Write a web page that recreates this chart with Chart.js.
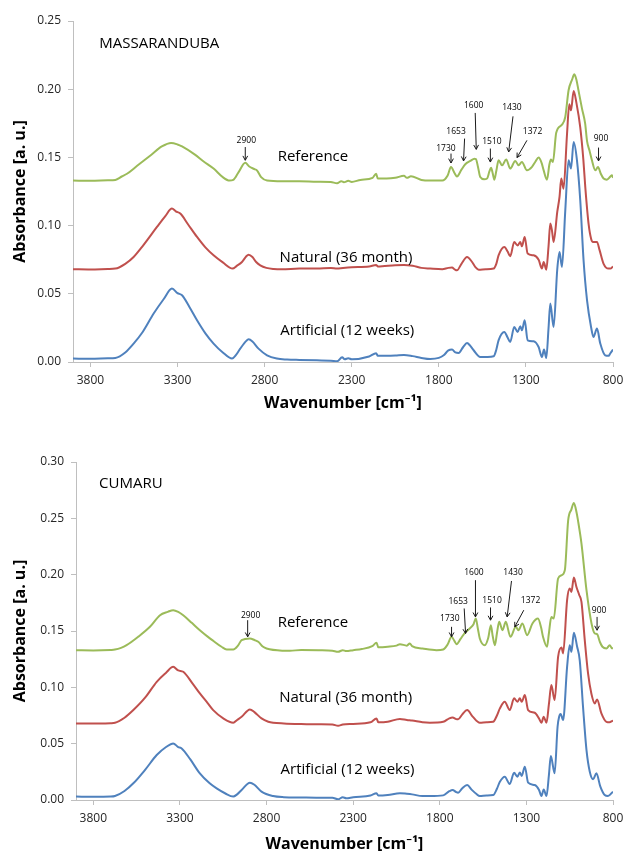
<!DOCTYPE html>
<html>
<head>
<meta charset="utf-8">
<script src="https://cdn.jsdelivr.net/npm/chart.js@4.4.1/dist/chart.umd.min.js"></script>
<style>
  body { margin: 0; background: #fff; }
  #wrap { position: relative; width: 627px; height: 854px; }
  #c1 { position: absolute; left: 0; top: 0; }
  #c2 { position: absolute; left: 0; top: 420px; }
</style>
</head>
<body>
<div id="wrap">
  <canvas id="c1" width="627" height="420"></canvas>
  <canvas id="c2" width="627" height="434"></canvas>
</div>
<script>
// wavenumber axis
const xTicks = [800, 1300, 1800, 2300, 2800, 3300, 3800];
const yTicksTop = [0, 0.05, 0.10, 0.15, 0.20, 0.25];
const yTicksBottom = [0, 0.05, 0.10, 0.15, 0.20, 0.25, 0.30];
const seriesNames = ['Reference', 'Natural (36 month)', 'Artificial (12 weeks)'];

// MASSARANDUBA - reference
const massRefWn = [3900,3800,3700,3657,3620,3590,3530,3450,3390,3337,
  3300,3274,3200,3150,3093,3040,3001,2980,2950,2911,
  2890,2860,2844,2820,2786,2700,2600,2500,2420,2384,
  2360,2345,2320,2300,2250,2180,2160,2150,2100,2050,
  2000,1983,1960,1900,1850,1780,1750,1730,1710,1696,
  1670,1648,1619,1595,1587,1575,1562,1540,1523,1510,
  1500,1490,1481,1470,1457,1437,1413,1390,1361,1342,
  1323,1294,1265,1245,1227,1210,1198,1179,1165,1156,
  1145,1126,1093,1074,1055,1035,1022,1010,998,978,
  960,949,935,921,902,886,870,854,835,815,
  806,800];
const massRefAbs = [.133,.1328,.1332,.1335,.136,.138,.144,.152,.158,.1606,
  .1595,.158,.152,.147,.1418,.1355,.133,.1335,.139,.146,
  .1435,.1415,.1405,.1355,.133,.1325,.1325,.1322,.132,.131,
  .1325,.1318,.1328,.132,.1335,.135,.138,.1345,.1345,.135,
  .1365,.135,.1362,.1335,.133,.133,.1365,.143,.1385,.136,
  .141,.145,.1474,.149,.1488,.143,.1356,.134,.1345,.1395,
  .1425,.138,.1337,.14,.1479,.1442,.1484,.1418,.1474,.1442,
  .1466,.1405,.143,.147,.1499,.146,.1405,.1337,.145,.1484,
  .1466,.168,.174,.1796,.1992,.207,.211,.207,.199,.1858,
  .175,.162,.155,.1479,.1405,.143,.138,.1345,.1337,.136,
  .1369,.135];

// MASSARANDUBA - natural
const massNatWn = [3900,3800,3700,3657,3600,3552,3500,3418,3370,3332,
  3310,3284,3240,3188,3140,3093,3040,2984,2960,2930,
  2905,2892,2870,2850,2825,2790,2748,2700,2600,2500,
  2420,2384,2350,2300,2200,2160,2150,2050,2000,1950,
  1900,1850,1780,1745,1724,1710,1696,1670,1638,1610,
  1590,1571,1530,1485,1470,1457,1424,1405,1390,1367,
  1348,1332,1323,1307,1290,1256,1227,1208,1198,1183,
  1170,1160,1150,1141,1120,1107,1097,1084,1064,1051,
  1041,1026,1010,988,970,959,940,925,915,892,
  877,854,826,815,800];
const massNatAbs = [.068,.0678,.0682,.0685,.072,.077,.085,.099,.107,.1125,
  .1105,.1088,.101,.0917,.084,.0782,.073,.0685,.0705,.0733,
  .0775,.0787,.077,.0735,.0709,.069,.0682,.068,.0685,.0685,
  .069,.0685,.069,.0695,.07,.0712,.07,.071,.0712,.0705,
  .069,.0685,.068,.069,.0692,.068,.0672,.072,.077,.0735,
  .0695,.0677,.068,.0685,.072,.0782,.0843,.081,.0775,.088,
  .0855,.088,.0848,.0916,.0795,.0782,.075,.0685,.0733,.0677,
  .085,.1015,.096,.088,.11,.121,.1345,.127,.167,.189,
  .1845,.1987,.19,.172,.148,.128,.101,.09,.088,.088,
  .082,.072,.0685,.0685,.07];

// MASSARANDUBA - artificial
const massArtWn = [3900,3800,3700,3657,3600,3552,3500,3437,3380,3332,
  3300,3274,3230,3188,3140,3093,3040,2987,2965,2940,
  2905,2892,2870,2835,2786,2730,2671,2600,2500,2420,
  2384,2355,2340,2320,2300,2200,2160,2150,2100,2050,
  2000,1950,1900,1850,1800,1772,1745,1724,1705,1686,
  1660,1638,1620,1600,1562,1520,1485,1470,1457,1424,
  1405,1390,1367,1348,1332,1323,1307,1290,1256,1227,
  1208,1196,1183,1170,1160,1141,1120,1107,1093,1074,
  1055,1041,1026,1007,988,969,949,926,912,892,
  873,845,825,816,800];
const massArtAbs = [.0025,.0023,.0027,.003,.007,.0135,.022,.0355,.046,.0538,
  .0505,.0489,.04,.0306,.021,.0135,.007,.0025,.005,.0098,
  .0155,.0166,.015,.0098,.0049,.0025,.0018,.0015,.0012,.001,
  .0005,.0035,.002,.0028,.002,.004,.0065,.0045,.0045,.0047,
  .0052,.0043,.003,.0022,.003,.0049,.0085,.0091,.007,.0066,
  .011,.0139,.012,.0086,.0037,.0037,.0042,.009,.0159,.022,
  .018,.0147,.0257,.022,.0262,.0232,.0306,.0159,.0152,.011,
  .0037,.0091,.0029,.025,.0428,.0257,.068,.0806,.0697,.111,
  .148,.1418,.1613,.148,.1186,.0746,.0452,.0257,.0183,.0245,
  .0135,.0049,.0045,.0062,.0091];

// CUMARU - reference
const cumRefWn = [3900,3800,3700,3675,3640,3608,3540,3473,3415,3370,
  3339,3310,3281,3230,3185,3140,3108,3060,3030,2992,
  2965,2944,2896,2870,2848,2820,2800,2700,2665,2600,
  2500,2420,2387,2360,2340,2300,2250,2190,2165,2155,
  2100,2050,2030,1990,1973,1960,1900,1819,1780,1755,
  1732,1715,1703,1680,1655,1627,1605,1592,1580,1569,
  1540,1520,1505,1495,1482,1470,1457,1438,1419,1392,
  1361,1346,1323,1296,1265,1233,1215,1204,1181,1170,
  1156,1142,1117,1097,1078,1059,1040,1026,1010,1002,
  982,953,924,905,892,875,861,838,819,808,
  800];
const cumRefAbs = [.133,.1328,.1332,.1335,.135,.1374,.145,.1537,.164,.167,
  .1685,.167,.164,.157,.1507,.145,.1413,.136,.1336,.1336,
  .137,.1419,.1434,.142,.1404,.136,.1345,.1325,.1324,.1332,
  .133,.1325,.1315,.133,.1322,.133,.134,.1365,.1395,.1355,
  .136,.137,.1383,.137,.139,.1365,.1345,.133,.1336,.138,
  .1448,.141,.1383,.143,.1484,.1522,.156,.1611,.152,.1434,
  .1374,.144,.1552,.146,.1374,.148,.1581,.1507,.1581,.1448,
  .1537,.1507,.1567,.1463,.1567,.1611,.153,.1448,.136,.148,
  .1625,.1611,.1966,.1995,.204,.248,.258,.2637,.255,.248,
  .2276,.1862,.1567,.1478,.1472,.14,.136,.1345,.1374,.135,
  .1345];

// CUMARU - natural
const cumNatWn = [3900,3800,3700,3675,3620,3569,3500,3434,3380,3339,
  3310,3281,3230,3185,3140,3108,3050,2992,2970,2944,
  2896,2870,2829,2790,2762,2700,2600,2500,2420,2387,
  2360,2300,2200,2165,2155,2100,2030,1990,1960,1900,
  1857,1780,1745,1726,1705,1694,1670,1642,1610,1569,
  1530,1492,1470,1453,1425,1396,1371,1352,1338,1327,
  1309,1290,1252,1227,1213,1200,1184,1170,1156,1137,
  1117,1097,1088,1065,1050,1040,1026,1011,995,982,
  963,944,925,905,892,867,838,820,803,800];
const cumNatAbs = [.068,.0678,.0682,.0685,.073,.0798,.091,.1049,.113,.1182,
  .115,.1138,.104,.0946,.086,.0798,.0725,.0686,.071,.0739,
  .0804,.078,.0724,.0695,.0686,.068,.0675,.0672,.067,.0659,
  .067,.0675,.069,.0724,.069,.0695,.072,.071,.0705,.069,
  .0686,.0694,.0725,.0733,.0718,.0716,.076,.0798,.074,.0686,
  .069,.0694,.075,.0813,.0872,.0798,.0902,.0872,.0902,.0872,
  .0931,.0798,.0774,.0724,.0686,.0739,.0686,.085,.102,.0887,
  .1271,.1354,.1301,.1774,.1877,.1847,.1975,.1891,.182,.1758,
  .1419,.1123,.0946,.0857,.0893,.0769,.0694,.069,.0703,.0705];

// CUMARU - artificial
const cumArtWn = [3900,3800,3700,3675,3620,3569,3500,3434,3380,3339,
  3310,3290,3240,3185,3130,3088,3040,2992,2970,2944,
  2896,2870,2829,2762,2700,2600,2500,2420,2387,2360,
  2340,2300,2200,2165,2155,2100,2030,1990,1960,1900,
  1857,1780,1745,1726,1705,1694,1670,1642,1615,1588,
  1569,1530,1492,1470,1453,1425,1396,1371,1352,1338,
  1327,1309,1290,1252,1227,1213,1200,1184,1170,1159,
  1137,1120,1111,1102,1088,1065,1050,1040,1026,1007,
  992,973,953,934,915,896,873,848,829,800];
const cumArtAbs = [.003,.0028,.003,.0035,.008,.0148,.027,.0399,.047,.0502,
  .047,.0458,.036,.0236,.015,.0103,.006,.003,.005,.0089,
  .0154,.0135,.0074,.0035,.0025,.0022,.002,.002,.0006,.0025,
  .0015,.0025,.004,.006,.004,.0045,.006,.0055,.005,.0035,
  .0035,.0041,.0078,.0089,.007,.0065,.0105,.0133,.009,.0053,
  .0035,.004,.0044,.01,.0162,.0207,.0142,.0242,.0207,.0245,
  .0213,.0296,.0154,.0133,.0089,.0035,.0094,.0035,.022,.039,
  .0237,.065,.0739,.0763,.0709,.1182,.1374,.1315,.1484,.136,
  .124,.0827,.0443,.0251,.0184,.0237,.0118,.0044,.0035,.0074];

// text labels: [text, wavenumber, absorbance]
const massNames = [['MASSARANDUBA', 3749, 0.2334], ['Reference', 2725, 0.1503],
  ['Natural (36 month)', 2714, 0.0765], ['Artificial (12 weeks)', 2710, 0.0232]];
const cumNames = [['CUMARU', 3767, 0.2808], ['Reference', 2736, 0.1572],
  ['Natural (36 month)', 2727, 0.0911], ['Artificial (12 weeks)', 2719, 0.0266]];

// band markers: [label, labelWn, labelAbs, arrowFromWn, arrowFromAbs, arrowToWn, arrowToAbs]
const massPeaks = [
  ['2900', 2905, 0.1625, 2911, 0.1576, 2911, 0.1479],
  ['1730', 1759, 0.1565, 1730, 0.1528, 1730, 0.1459],
  ['1653', 1701, 0.1691, 1652, 0.1638, 1658, 0.1474],
  ['1600', 1600, 0.1882, 1591, 0.1826, 1585, 0.1559],
  ['1510', 1495, 0.1613, 1504, 0.1565, 1504, 0.1466],
  ['1430', 1380, 0.1862, 1374, 0.1801, 1399, 0.1540],
  ['1372', 1262, 0.1686, 1294, 0.1625, 1351, 0.1499],
  ['900', 869, 0.1638, 883, 0.1572, 883, 0.1474]
];
const cumPeaks = [
  ['2900', 2892, 0.1641, 2909, 0.1596, 2909, 0.1448],
  ['1730', 1742, 0.1611, 1732, 0.1537, 1732, 0.1448],
  ['1653', 1694, 0.1758, 1659, 0.1700, 1651, 0.1478],
  ['1600', 1603, 0.2016, 1594, 0.1951, 1594, 0.1625],
  ['1510', 1498, 0.1767, 1507, 0.1709, 1507, 0.1596],
  ['1430', 1377, 0.2016, 1386, 0.1944, 1411, 0.1625],
  ['1372', 1276, 0.1767, 1315, 0.1685, 1367, 0.1537],
  ['900', 880, 0.1685, 892, 0.1625, 892, 0.1507]
];

const colors = ['#9BBB59', '#C0504D', '#4F81BD'];
const FONT = '"Open Sans", "Noto Sans", sans-serif';

function pts(wn, abs) {
    return wn.map((w, i) => ({x: w, y: abs[i]}));
}

// draws sample names and arrow markers on top of the spectra
function annotPlugin(names, peaks) {
    return {
        id: 'annot',
        afterDatasetsDraw(chart) {
            const ctx = chart.ctx;
            const xs = chart.scales.x, ys = chart.scales.y;
            const px = v => xs.getPixelForValue(v);
            const py = v => ys.getPixelForValue(v);
            ctx.save();
            ctx.fillStyle = '#000';
            ctx.textBaseline = 'middle';
            ctx.textAlign = 'left';
            ctx.font = '15px ' + FONT;
            names.forEach(n => ctx.fillText(n[0], px(n[1]), py(n[2])));

            ctx.font = '8.5px ' + FONT;
            ctx.textAlign = 'center';
            ctx.strokeStyle = '#1a1a1a';
            ctx.lineWidth = 1;
            peaks.forEach(p => {
                ctx.fillText(p[0], px(p[1]), py(p[2]));
                const x1 = px(p[3]), y1 = py(p[4]), x2 = px(p[5]), y2 = py(p[6]);
                const a = Math.atan2(y2 - y1, x2 - x1);
                ctx.beginPath();
                ctx.moveTo(x1, y1);
                ctx.lineTo(x2, y2);
                ctx.moveTo(x2 - 5 * Math.cos(a - 0.5), y2 - 5 * Math.sin(a - 0.5));
                ctx.lineTo(x2, y2);
                ctx.lineTo(x2 - 5 * Math.cos(a + 0.5), y2 - 5 * Math.sin(a + 0.5));
                ctx.stroke();
            });
            ctx.restore();
        }
    };
}

function makeChart(id, series, yTicks, names, peaks, lay) {
    const datasets = series.map((s, i) => ({
        label: seriesNames[i],
        data: pts(s[0], s[1]),
        borderColor: colors[i],
        borderWidth: 2,
        pointRadius: 0,
        fill: false,
        cubicInterpolationMode: 'monotone'
    }));
    return new Chart(document.getElementById(id), {
        type: 'line',
        data: {datasets: datasets},
        options: {
            responsive: false,
            animation: false,
            layout: {padding: {top: lay.top, right: 14, bottom: 0, left: 0}},
            plugins: {legend: {display: false}, tooltip: {enabled: false}},
            scales: {
                x: {
                    type: 'linear',
                    reverse: true,
                    min: 800,
                    max: 3900,
                    afterBuildTicks: s => { s.ticks = xTicks.map(v => ({value: v})); },
                    afterFit: s => { s.height = lay.xH; },
                    ticks: {font: {family: FONT, size: 12}, color: '#262626', padding: 6, maxRotation: 0,
                        autoSkip: false, callback: v => String(v)},
                    grid: {drawOnChartArea: false, drawTicks: true, tickLength: 5, color: '#bfbfbf'},
                    border: {color: '#bfbfbf'},
                    title: {display: true, text: 'Wavenumber [cm\u207B\u00B9]', color: '#000',
                        font: {family: FONT, size: 16, weight: 'bold'}, padding: {top: 0, bottom: lay.xTitle}}
                },
                y: {
                    min: 0,
                    max: yTicks[yTicks.length - 1],
                    afterBuildTicks: s => { s.ticks = yTicks.map(v => ({value: v})); },
                    afterFit: s => { s.width = lay.yW; },
                    ticks: {font: {family: FONT, size: 12}, color: '#262626', padding: 7, callback: v => v.toFixed(2)},
                    grid: {drawOnChartArea: false, drawTicks: true, tickLength: 5, color: '#bfbfbf'},
                    border: {color: '#bfbfbf'},
                    title: {display: true, text: 'Absorbance [a. u.]', color: '#000',
                        font: {family: FONT, size: 16, weight: 'bold'}, padding: {top: 11, bottom: 0}}
                }
            }
        },
        plugins: [annotPlugin(names, peaks)]
    });
}

makeChart('c1', [[massRefWn, massRefAbs], [massNatWn, massNatAbs], [massArtWn, massArtAbs]],
    yTicksTop, massNames, massPeaks, {top: 21, xH: 58, yW: 73, xTitle: 7});
makeChart('c2', [[cumRefWn, cumRefAbs], [cumNatWn, cumNatAbs], [cumArtWn, cumArtAbs]],
    yTicksBottom, cumNames, cumPeaks, {top: 42, xH: 54, yW: 76, xTitle: 0});
</script>
</body>
</html>
